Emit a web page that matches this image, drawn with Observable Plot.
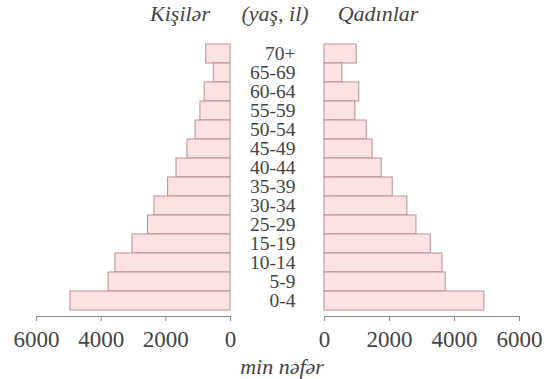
<!DOCTYPE html>
<html>
<head>
<meta charset="utf-8">
<script src="https://cdn.jsdelivr.net/npm/d3@7"></script>
<script src="https://cdn.jsdelivr.net/npm/@observablehq/plot@0.6"></script>
<style>
  html, body { margin: 0; padding: 0; background: #fff; }
  #wrap { position: relative; width: 546px; height: 379px; overflow: hidden; font-family: "Liberation Serif", "Times New Roman", serif; color: #3a3a3a; }
  #wrap > svg { position: absolute; top: 0; background: transparent !important; }
  .lbl { position: absolute; font-style: italic; font-size: 22px; line-height: 1; white-space: nowrap; transform: translateX(-50%); color: #444; font-family: "Liberation Serif", "Times New Roman", serif; }
</style>
</head>
<body>
<div id="wrap"></div>
<script>
const ages = ["70+", "65-69", "60-64", "55-59", "50-54", "45-49", "40-44", "35-39", "30-34", "25-29", "15-19", "10-14", "5-9", "0-4"];
const men =   [750, 520, 800, 930, 1080, 1330, 1670, 1930, 2350, 2550, 3030, 3560, 3770, 4950];
const women = [990, 550, 1070, 950, 1300, 1480, 1760, 2100, 2550, 2830, 3270, 3630, 3730, 4920];
const xTicks = [0, 2000, 4000, 6000];
const titleLeft = "Kişilər";
const titleMid = "(yaş, il)";
const titleRight = "Qadınlar";
const unitLabel = "min nəfər";

const menData = ages.map((a, i) => ({age: a, value: men[i]}));
const womenData = ages.map((a, i) => ({age: a, value: women[i]}));

const fill = "#fce2e2";
const stroke = "#b98d92";
const axisColor = "#8a8a8a";
const font = "'Liberation Serif', 'Times New Roman', serif";

function side(data, reverse, opts) {
  return Plot.plot({
    width: opts.width,
    height: 379,
    marginLeft: opts.marginLeft,
    marginRight: opts.marginRight,
    marginTop: 38,
    marginBottom: 63,
    style: {fontFamily: font, background: "transparent", color: "#444"},
    x: {domain: [0, 6000], reverse, axis: null},
    y: {domain: ages, padding: 0, axis: null},
    marks: [
      Plot.barX(data, {x: "value", y: "age", fill, stroke, strokeWidth: 1}),
      Plot.frame({anchor: "bottom", stroke: axisColor, strokeWidth: 1}),
      Plot.axisX({ticks: xTicks, tickFormat: d => String(d), tickSize: 5, tickPadding: 9, fontSize: 23, stroke: axisColor, fill: "#444", label: null}),
      ...(opts.labels ? [Plot.text(ages, {y: d => d, text: d => d, frameAnchor: "left", dx: -29, textAnchor: "end", fontSize: 19.5, fill: "#444"})] : [])
    ]
  });
}

const wrap = document.getElementById("wrap");
const left = side(menData, true, {width: 246, marginLeft: 36, marginRight: 16});
left.style.left = "0px";
const right = side(womenData, false, {width: 300, marginLeft: 78, marginRight: 27, labels: true});
right.style.left = "246px";
wrap.appendChild(left);
wrap.appendChild(right);

function addLabel(text, cx, top) {
  const d = document.createElement("div");
  d.className = "lbl";
  d.textContent = text;
  d.style.left = cx + "px";
  d.style.top = top + "px";
  wrap.appendChild(d);
}
addLabel(titleLeft, 180, 3);
addLabel(titleMid, 275, 3);
addLabel(titleRight, 378, 3);
addLabel(unitLabel, 282, 356);
</script>
</body>
</html>
